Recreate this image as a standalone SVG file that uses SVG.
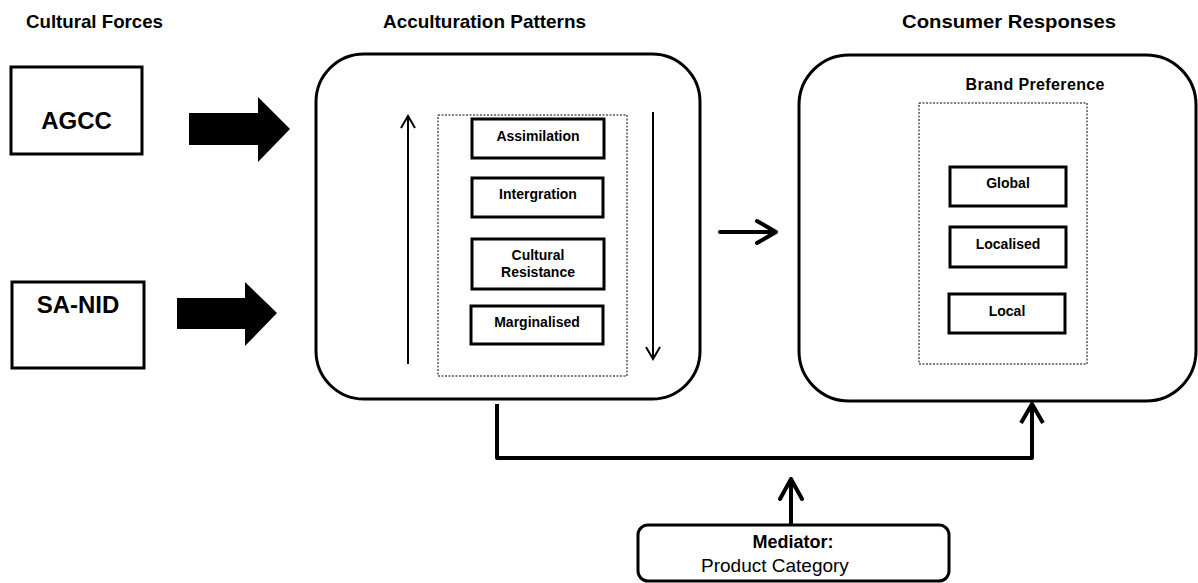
<svg xmlns="http://www.w3.org/2000/svg" width="1198" height="583" viewBox="0 0 1198 583">
<style>
  text { font-family: "Liberation Sans", Arial, sans-serif; fill: #000; }
  .title { font-size: 19px; font-weight: bold; }
  .big { font-size: 24px; font-weight: bold; }
  .item { font-size: 14px; font-weight: bold; }
  .box { fill: #fff; stroke: #000; stroke-width: 3; }
  .panel { fill: #fff; stroke: #000; stroke-width: 3; }
  .dotted { fill: none; stroke: #000; stroke-width: 1; stroke-dasharray: 2 1.5; }
  .thin { fill: none; stroke: #000; stroke-width: 2; }
  .thick { fill: none; stroke: #000; stroke-width: 4; stroke-linecap: round; stroke-linejoin: round; }
  .fat { fill: #000; stroke: none; }
</style>

<g id="titles">
  <text class="title" x="26" y="28" textLength="137" lengthAdjust="spacingAndGlyphs">Cultural Forces</text>
  <text class="title" x="383" y="28" textLength="203" lengthAdjust="spacingAndGlyphs">Acculturation Patterns</text>
  <text class="title" x="902" y="28" textLength="214" lengthAdjust="spacingAndGlyphs">Consumer Responses</text>
</g>

<g id="node-agcc">
  <rect class="box" x="11" y="67" width="131" height="87"/>
  <text class="big" x="76.5" y="129" text-anchor="middle">AGCC</text>
</g>

<g id="node-sanid">
  <rect class="box" x="12" y="282" width="132" height="86"/>
  <text class="big" x="78" y="313" text-anchor="middle">SA-NID</text>
</g>

<g id="node-acculturation">
  <rect class="panel" x="316" y="54" width="384" height="345" rx="48" ry="48"/>
  <rect class="dotted" x="438" y="115" width="189" height="261"/>
  <g id="node-assimilation">
    <rect class="box" x="472" y="119" width="132" height="39"/>
    <text class="item" x="538" y="141" text-anchor="middle">Assimilation</text>
  </g>
  <g id="node-integration">
    <rect class="box" x="472" y="178" width="131" height="39"/>
    <text class="item" x="538" y="199" text-anchor="middle">Intergration</text>
  </g>
  <g id="node-resistance">
    <rect class="box" x="472" y="239" width="132" height="50"/>
    <text class="item" x="538" y="260" text-anchor="middle">Cultural</text>
    <text class="item" x="538" y="277" text-anchor="middle">Resistance</text>
  </g>
  <g id="node-marginalised">
    <rect class="box" x="471" y="306" width="132" height="38"/>
    <text class="item" x="537" y="327" text-anchor="middle">Marginalised</text>
  </g>
  <path class="thin" d="M408 364 L408 116 M401 128 L408 116 L415 128"/>
  <path class="thin" d="M653 112 L653 359 M646 347 L653 359 L660 347"/>
</g>

<g id="node-consumer">
  <rect class="panel" x="799" y="55" width="397" height="346" rx="50" ry="50"/>
  <text x="1035" y="90" text-anchor="middle" style="font-size:16px;font-weight:bold" textLength="139" lengthAdjust="spacing">Brand Preference</text>
  <rect class="dotted" x="919" y="103" width="168" height="261"/>
  <g id="node-global">
    <rect class="box" x="950" y="167" width="116" height="39"/>
    <text class="item" x="1008" y="188" text-anchor="middle">Global</text>
  </g>
  <g id="node-localised">
    <rect class="box" x="950" y="227" width="116" height="40"/>
    <text class="item" x="1008" y="249" text-anchor="middle">Localised</text>
  </g>
  <g id="node-local">
    <rect class="box" x="949" y="294" width="116" height="39"/>
    <text class="item" x="1007" y="316" text-anchor="middle">Local</text>
  </g>
</g>

<g id="node-mediator">
  <rect class="box" x="638" y="525" width="311" height="56" rx="10" ry="10"/>
  <text x="793" y="548" text-anchor="middle" style="font-size:18px;font-weight:bold">Mediator:</text>
  <text x="701" y="572" style="font-size:19px">Product Category</text>
</g>

<g id="connectors">
  <polygon class="fat" points="189,113 258,113 258,97 290,129 258,162 258,145 189,145"/>
  <polygon class="fat" points="177,298 245,298 245,282 277,313 245,346 245,329 177,329"/>
  <path class="thick" d="M720 232 L776 232 M757 221 L776 232 L757 243"/>
  <path class="thick" d="M497 404 L497 458 L1032 458 L1032 404 M1021 423 L1032 404 L1043 423" style="stroke-linecap:butt"/>
  <path class="thick" d="M791 524 L791 479 M780 499 L791 479 L802 499"/>
</g>
</svg>
